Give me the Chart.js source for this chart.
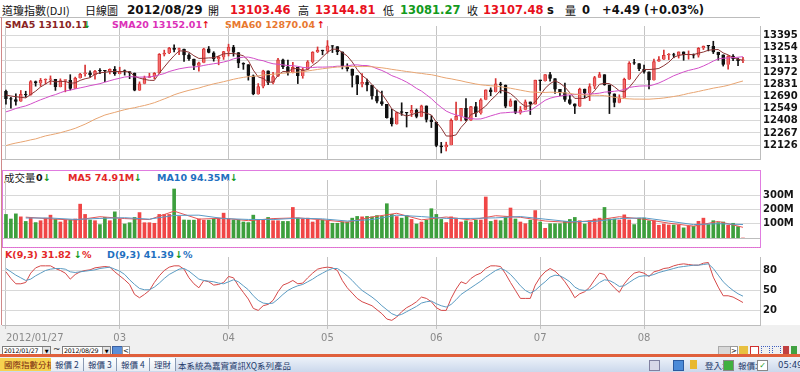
<!DOCTYPE html>
<html lang="zh-Hant">
<head>
<meta charset="UTF-8">
<title>道瓊指數(DJI) 日線圖</title>
<script src="https://cdn.jsdelivr.net/npm/chart.js"></script>
<style>
    body { margin: 0; width: 800px; height: 372px; overflow: hidden; background: #fff; position: relative; font-family: 'DejaVu Sans', sans-serif; }
    .abs { position: absolute; white-space: nowrap; }
    canvas { position: absolute; left: 0; z-index: 1; }
    .cjk { font-family: 'Noto Sans CJK TC', sans-serif; }
    .hd { top: 2px; font-size: 11px; line-height: 16px; color: #111; }
    .num { font-weight: bold; font-size: 11.5px; }
    .leg { font-weight: bold; font-size: 9.5px; line-height: 12px; z-index: 0; }
    .red { color: #e8101c; }
    .grn { color: #129a1c; }
    .over { z-index: 2; }
    .box { position: absolute; top: 346px; height: 8px; background: #fff; border: 1px solid #7c7c7c; font-size: 6.3px; line-height: 8px; padding-left: 1px; letter-spacing: -0.2px; overflow: hidden; }
    .dd { position: absolute; right: 0; top: 0; width: 7px; height: 8px; background: #e4e4e4; border-left: 1px solid #999; font-size: 5px; text-align: center; }
    .tab { position: absolute; top: 358px; height: 13px; font-size: 8.5px; line-height: 13px; padding: 0 4px; border-right: 1px solid #8a9ab4; background: linear-gradient(#ffffff, #e6ecf4); color: #243a6a; }
    .st { position: absolute; top: 359px; font-size: 8.5px; line-height: 12px; color: #243a6a; }
    .ic { position: absolute; width: 9px; height: 9px; }
</style>
</head>
<body>

<!-- header -->
<div class="abs hd cjk" style="left:2px">道瓊指數(DJI)</div>
<div class="abs hd cjk" style="left:85px">日線圖</div>
<div class="abs hd num" style="left:127px;font-size:12px">2012/08/29</div>
<div class="abs hd cjk" style="left:208px">開</div>
<div class="abs hd num red" style="left:230px">13103.46</div>
<div class="abs hd cjk" style="left:298px">高</div>
<div class="abs hd num red" style="left:315px">13144.81</div>
<div class="abs hd cjk" style="left:383px">低</div>
<div class="abs hd num grn" style="left:400px">13081.27</div>
<div class="abs hd cjk" style="left:467px">收</div>
<div class="abs hd num red" style="left:483px">13107.48</div>
<div class="abs hd num" style="left:547px">s</div>
<div class="abs hd cjk" style="left:565px">量</div>
<div class="abs hd num" style="left:582px">0</div>
<div class="abs hd num" style="left:602px">+4.49 (+0.03%)</div>

<!-- legends -->
<div class="abs leg" style="left:5px;top:19px;color:#8a2424">SMA5 13110.11</div>
<div class="abs leg grn" style="left:83px;top:19px">↓</div>
<div class="abs leg" style="left:112px;top:19px;color:#dc30b8">SMA20 13152.01</div>
<div class="abs leg red" style="left:202px;top:19px">↑</div>
<div class="abs leg" style="left:225px;top:19px;color:#e87830">SMA60 12870.04</div>
<div class="abs leg red" style="left:317px;top:19px">↑</div>

<div class="abs leg cjk" style="left:4px;top:171px;font-weight:normal;font-size:10.5px;line-height:14px;color:#222">成交量</div>
<div class="abs leg" style="left:36px;top:172px;color:#111">0</div>
<div class="abs leg grn" style="left:43px;top:172px">↓</div>
<div class="abs leg" style="left:68px;top:172px;color:#e42828">MA5 74.91M</div>
<div class="abs leg grn" style="left:134px;top:172px">↓</div>
<div class="abs leg" style="left:157px;top:172px;color:#1f70c0">MA10 94.35M</div>
<div class="abs leg grn" style="left:230px;top:172px">↓</div>

<div class="abs leg" style="left:5px;top:249px;color:#e42828">K(9,3) 31.82</div>
<div class="abs leg grn" style="left:74px;top:249px">↓</div>
<div class="abs leg" style="left:82px;top:249px;color:#e42828">%</div>
<div class="abs leg" style="left:107px;top:249px;color:#1f70c0">D(9,3) 41.39</div>
<div class="abs leg grn" style="left:175px;top:249px">↓</div>
<div class="abs leg" style="left:183px;top:249px;color:#1f70c0">%</div>

<!-- backgrounds of the date / picker rows -->
<div class="abs" style="left:0;top:325px;width:800px;height:30px;background:#f0f0f0;z-index:0"></div>

<canvas id="priceChart" width="800" height="151" style="top:17px"></canvas>
<canvas id="volChart" width="800" height="76" style="top:171px"></canvas>
<canvas id="kdChart" width="800" height="97" style="top:248px"></canvas>

<!-- panel frames -->
<div class="abs over" style="left:0;top:17px;width:760px;height:0;border-top:1px solid #bcbcbc"></div>
<div class="abs over" style="left:1px;top:17px;width:0;height:308px;border-left:1px solid #d08a8a"></div>
<div class="abs over" style="left:2px;top:170px;width:757px;height:76px;border:1px solid #e07ce0"></div>
<div class="abs over" style="left:2px;top:247px;width:758px;height:0;border-top:1px dotted #e070c8"></div>

<!-- date pickers row -->
<div class="box" style="left:2px;width:46px">2012/01/27<div class="dd">▼</div></div>
<div class="abs" style="left:53px;top:344px;font-size:9px;color:#222">~</div>
<div class="box" style="left:62px;width:46px">2012/08/29<div class="dd">▼</div></div>
<div class="ic" style="left:112px;top:346px;background:#5b8fd8;border:1px solid #3a5fa0"></div>
<div class="abs" style="left:122px;top:346px;width:6px;height:8px;background:#fff;border:1px solid #999;font-size:7px;line-height:8px;text-align:center">&lt;</div>
<div class="abs" style="left:718px;top:346px;width:11px;height:8px;background:#d8d8d8;border:1px solid #aaa"></div>
<div class="abs" style="left:730px;top:346px;width:6px;height:8px;background:#fff;border:1px solid #999;font-size:7px;line-height:8px;text-align:center">&gt;</div>
<div class="ic" style="left:739px;top:346px;background:#e8c040"></div>
<div class="ic" style="left:750px;top:346px;background:#fff;border:1px solid #d03030;width:7px;height:7px"></div>
<div class="ic" style="left:761px;top:346px;border:1px dotted #4060c0;width:7px;height:7px"></div>
<div class="ic" style="left:772px;top:346px;border:1px dotted #4060c0;width:7px;height:7px"></div>
<div class="ic" style="left:783px;top:346px;background:#c04040;width:6px"></div>
<div class="ic" style="left:791px;top:346px;background:#40a040;width:6px"></div>

<!-- status bar -->
<div class="abs" style="left:0;top:354px;width:800px;height:3px;background:#e0603c"></div>
<div class="abs" style="left:0;top:357px;width:800px;height:15px;background:linear-gradient(#edf2f9,#cbd8ec)"></div>
<div class="tab cjk" style="left:0;background:#f6d250;color:#7a2a10">國際指數分析</div>
<div class="tab cjk" style="left:51px">報價 2</div>
<div class="tab cjk" style="left:84px">報價 3</div>
<div class="tab cjk" style="left:117px">報價 4</div>
<div class="tab cjk" style="left:150px">理財</div>
<div class="st cjk" style="left:178px">本系統為嘉實資訊XQ系列產品</div>
<div class="ic" style="left:649px;top:360px;background:#d8d8e8;border:1px solid #8080a0"></div>
<div class="ic" style="left:673px;top:360px;background:#4a8ad8;border:1px solid #2a5aa0"></div>
<div class="ic" style="left:690px;top:360px;background:#e8b830;width:7px"></div>
<div class="st cjk" style="left:705px">登入:</div>
<div class="ic" style="left:723px;top:360px;background:#40b040;border:1px solid #888"></div>
<div class="st cjk" style="left:738px">報價:</div>
<div class="ic" style="left:757px;top:360px;background:#fff;border:1px solid #888;font-size:8px;line-height:9px;color:#1a9a1a;text-align:center">✓</div>
<div class="st" style="left:778px">05:49:</div>

<script>
// Dow Jones daily, 2012/01/27 - 2012/08/29 (one entry per trading day)
const opens = [
    12750, 12660, 12654, 12633, 12716, 12705, 12862, 12845, 12878, 12884,
    12890, 12801, 12874, 12878, 12781, 12904, 12950, 12966, 12939, 12985,
    12983, 12982, 13005, 12952, 12980, 12978, 12963, 12759, 12837, 12908,
    12922, 12960, 13178, 13194, 13253, 13233, 13239, 13170, 13125, 13046,
    13081, 13242, 13198, 13126, 13146, 13212, 13264, 13200, 13075, 13060,
    12930, 12716, 12805, 12987, 12850, 12921, 13116, 13033, 12964, 13029,
    12927, 13002, 13091, 13205, 13228, 13214, 13279, 13269, 13207, 13038,
    13009, 12932, 12835, 12855, 12821, 12695, 12632, 12599, 12442, 12369,
    12504, 12503, 12496, 12530, 12455, 12581, 12420, 12393, 12119, 12101,
    12128, 12415, 12461, 12554, 12411, 12574, 12496, 12652, 12767, 12742,
    12837, 12824, 12574, 12641, 12503, 12535, 12627, 12602, 12880, 12871,
    12944, 12897, 12772, 12736, 12653, 12605, 12573, 12777, 12727, 12806,
    12909, 12943, 12823, 12721, 12617, 12676, 12888, 13076, 13073, 13009,
    12976, 12879, 13096, 13118, 13169, 13176, 13165, 13208, 13169, 13172,
    13165, 13250, 13275, 13272, 13204, 13173, 13057, 13158, 13125, 13103.46
];
const highs = [
    12765, 12680, 12720, 12760, 12751, 12875, 12870, 12900, 12895, 12929,
    12890, 12895, 12880, 12943, 12915, 12960, 13056, 12987, 12993, 13013,
    12993, 13012, 13038, 13030, 12999, 12978, 12963, 12860, 12927, 12960,
    12968, 13188, 13228, 13260, 13289, 13253, 13239, 13187, 13125, 13090,
    13250, 13270, 13210, 13160, 13214, 13297, 13284, 13200, 13082, 13060,
    12940, 12840, 12995, 12987, 12970, 13133, 13123, 13112, 13087, 13029,
    13024, 13107, 13210, 13265, 13228, 13339, 13280, 13269, 13207, 13070,
    13009, 12932, 12957, 12893, 12821, 12765, 12752, 12599, 12541, 12510,
    12617, 12503, 12588, 12545, 12590, 12581, 12468, 12393, 12158, 12160,
    12430, 12626, 12554, 12667, 12575, 12623, 12665, 12767, 12790, 12898,
    12855, 12824, 12662, 12641, 12574, 12650, 12627, 12880, 12880, 12944,
    12970, 12897, 12772, 12845, 12703, 12605, 12787, 12777, 12838, 12924,
    12971, 12943, 12823, 12721, 12710, 12903, 13094, 13120, 13073, 13054,
    12976, 13124, 13154, 13228, 13189, 13192, 13208, 13208, 13219, 13184,
    13258, 13276, 13276, 13331, 13204, 13173, 13166, 13176, 13135, 13144.81
];
const lows = [
    12600, 12555, 12590, 12633, 12681, 12705, 12810, 12808, 12835, 12830,
    12761, 12801, 12744, 12766, 12781, 12904, 12925, 12915, 12892, 12956,
    12861, 12953, 12935, 12952, 12938, 12897, 12756, 12759, 12837, 12908,
    12895, 12960, 13160, 13187, 13207, 13176, 13097, 13108, 13000, 12985,
    13081, 13196, 13100, 13058, 13120, 13160, 13158, 13024, 13005, 12880,
    12710, 12716, 12790, 12828, 12837, 12921, 13014, 12938, 12964, 12840,
    12902, 13002, 13077, 13200, 13174, 13192, 13200, 13175, 13010, 12985,
    12800, 12710, 12800, 12755, 12658, 12615, 12586, 12440, 12347, 12369,
    12471, 12336, 12457, 12442, 12455, 12394, 12330, 12107, 12035, 12058,
    12128, 12415, 12406, 12407, 12411, 12455, 12485, 12652, 12700, 12742,
    12730, 12560, 12574, 12490, 12486, 12535, 12481, 12602, 12760, 12867,
    12868, 12726, 12700, 12632, 12599, 12492, 12573, 12676, 12642, 12781,
    12909, 12820, 12492, 12570, 12616, 12676, 12888, 13061, 12990, 12962,
    12778, 12879, 13096, 13118, 13118, 13139, 13136, 13110, 13123, 13136,
    13147, 13235, 13219, 13188, 13112, 13043, 13007, 13105, 13049, 13081.27
];
const closes = [
    12660, 12654, 12633, 12716, 12705, 12862, 12845, 12878, 12884, 12890,
    12801, 12874, 12878, 12781, 12904, 12950, 12966, 12939, 12985, 12983,
    12982, 13005, 12952, 12980, 12978, 12963, 12759, 12837, 12908, 12922,
    12960, 13178, 13194, 13253, 13233, 13239, 13170, 13125, 13046, 13081,
    13242, 13198, 13126, 13146, 13212, 13264, 13200, 13075, 13060, 12930,
    12716, 12805, 12987, 12850, 12921, 13116, 13033, 12964, 13029, 12927,
    13002, 13091, 13205, 13228, 13214, 13279, 13269, 13207, 13038, 13009,
    12932, 12835, 12855, 12821, 12695, 12632, 12599, 12442, 12369, 12504,
    12503, 12496, 12530, 12455, 12581, 12420, 12393, 12119, 12101, 12128,
    12415, 12461, 12554, 12411, 12574, 12496, 12652, 12767, 12742, 12837,
    12824, 12574, 12641, 12503, 12535, 12627, 12602, 12880, 12871, 12944,
    12897, 12772, 12736, 12653, 12605, 12573, 12777, 12727, 12806, 12909,
    12943, 12823, 12721, 12617, 12676, 12888, 13076, 13073, 13009, 12976,
    12879, 13096, 13118, 13169, 13176, 13165, 13208, 13169, 13172, 13165,
    13250, 13275, 13272, 13204, 13173, 13057, 13158, 13125, 13103, 13107.48
];
const sma5 = [
    12707, 12696, 12688, 12680, 12674, 12714, 12752, 12801, 12835, 12872,
    12860, 12865, 12865, 12845, 12848, 12877, 12896, 12908, 12949, 12965,
    12971, 12979, 12981, 12980, 12979, 12976, 12926, 12903, 12889, 12878,
    12877, 12961, 13032, 13101, 13164, 13219, 13218, 13204, 13163, 13132,
    13133, 13138, 13139, 13159, 13185, 13189, 13190, 13179, 13162, 13106,
    12996, 12917, 12900, 12858, 12856, 12936, 12981, 12977, 13013, 13014,
    12991, 13003, 13051, 13091, 13148, 13203, 13239, 13239, 13201, 13160,
    13091, 13004, 12934, 12890, 12828, 12768, 12720, 12638, 12547, 12509,
    12483, 12463, 12480, 12498, 12513, 12496, 12476, 12394, 12323, 12232,
    12231, 12245, 12332, 12394, 12483, 12499, 12537, 12580, 12646, 12699,
    12764, 12749, 12724, 12676, 12615, 12576, 12582, 12629, 12703, 12785,
    12839, 12873, 12844, 12800, 12733, 12668, 12669, 12667, 12698, 12758,
    12832, 12842, 12840, 12803, 12756, 12745, 12796, 12866, 12944, 13004,
    13003, 13007, 13016, 13048, 13088, 13145, 13167, 13177, 13178, 13176,
    13193, 13206, 13227, 13233, 13235, 13196, 13173, 13143, 13123, 13110.11
];
const sma20 = [
    12512, 12530, 12551, 12567, 12581, 12603, 12628, 12652, 12673, 12695,
    12712, 12734, 12754, 12764, 12778, 12790, 12802, 12816, 12827, 12839,
    12856, 12873, 12889, 12902, 12916, 12921, 12917, 12915, 12916, 12917,
    12925, 12941, 12956, 12980, 12996, 13011, 13021, 13030, 13033, 13038,
    13051, 13061, 13070, 13078, 13090, 13105, 13127, 13139, 13146, 13147,
    13134, 13116, 13105, 13085, 13070, 13064, 13057, 13049, 13048, 13040,
    13028, 13023, 13027, 13031, 13031, 13032, 13035, 13042, 13041, 13045,
    13055, 13057, 13050, 13049, 13037, 13013, 12992, 12965, 12932, 12911,
    12886, 12857, 12823, 12784, 12753, 12710, 12666, 12611, 12565, 12521,
    12495, 12476, 12461, 12440, 12434, 12428, 12430, 12446, 12465, 12482,
    12498, 12502, 12507, 12510, 12507, 12518, 12528, 12566, 12605, 12646,
    12670, 12685, 12694, 12706, 12708, 12712, 12718, 12716, 12719, 12723,
    12729, 12741, 12745, 12751, 12758, 12771, 12795, 12804, 12811, 12813,
    12812, 12828, 12847, 12873, 12902, 12931, 12953, 12975, 12993, 13006,
    13021, 13044, 13071, 13101, 13126, 13134, 13138, 13141, 13146, 13152.01
];
const sma60 = [
    12120, 12137, 12150, 12161, 12173, 12187, 12198, 12216, 12233, 12245,
    12257, 12270, 12286, 12303, 12321, 12345, 12369, 12397, 12427, 12451,
    12475, 12491, 12506, 12522, 12537, 12550, 12560, 12574, 12586, 12601,
    12618, 12640, 12662, 12685, 12710, 12729, 12746, 12762, 12775, 12788,
    12806, 12821, 12837, 12849, 12862, 12876, 12890, 12902, 12912, 12920,
    12924, 12930, 12939, 12943, 12948, 12955, 12960, 12965, 12969, 12973,
    12978, 12986, 12995, 13004, 13012, 13019, 13026, 13032, 13034, 13036,
    13039, 13038, 13037, 13038, 13035, 13029, 13023, 13015, 13005, 12997,
    12989, 12980, 12973, 12964, 12958, 12949, 12943, 12931, 12917, 12904,
    12895, 12883, 12872, 12858, 12847, 12835, 12826, 12820, 12815, 12811,
    12804, 12794, 12786, 12775, 12764, 12753, 12743, 12740, 12737, 12737,
    12740, 12739, 12735, 12732, 12726, 12717, 12713, 12709, 12705, 12705,
    12704, 12700, 12692, 12681, 12672, 12666, 12663, 12660, 12660, 12659,
    12659, 12663, 12667, 12673, 12681, 12690, 12700, 12712, 12726, 12737,
    12749, 12762, 12774, 12787, 12797, 12807, 12820, 12837, 12854, 12870.04
];

// volume in millions of shares
const volumes = [
    165, 133, 169, 148, 116, 142, 108, 121, 139, 160,
    130, 112, 125, 126, 133, 237, 165, 126, 121, 94,
    144, 121, 183, 133, 98, 107, 144, 178, 107, 107,
    103, 165, 165, 165, 343, 151, 126, 125, 125, 133,
    125, 125, 133, 139, 174, 133, 126, 126, 112, 108,
    160, 130, 125, 144, 121, 121, 116, 116, 214, 139,
    133, 139, 112, 126, 126, 121, 103, 103, 112, 112,
    139, 151, 148, 151, 148, 157, 151, 240, 165, 150,
    139, 157, 130, 98, 112, 125, 205, 165, 130, 108,
    148, 139, 112, 121, 112, 125, 126, 287, 116, 126,
    121, 148, 210, 133, 112, 100, 125, 192, 112, 68,
    100, 100, 100, 116, 130, 144, 121, 98, 121, 133,
    139, 214, 133, 133, 126, 162, 126, 94, 139, 139,
    121, 121, 89, 98, 91, 91, 91, 71, 82, 82,
    117, 139, 94, 121, 108, 112, 89, 103, 80, 0
];
const volMaDays = [4, 9, 14, 19, 24, 29, 34, 39, 44, 49, 54, 59, 64, 69, 74, 79, 84, 89, 94, 99, 104, 109, 114, 119, 124, 129, 134, 139, 144, 149];
const volMa5 = [146, 134, 125, 149, 136, 129, 188, 132, 139, 121, 136, 141, 127, 110, 147, 173, 127, 147, 126, 156, 145, 119, 109, 123, 149, 132, 104, 83, 116, 74.91];
const volMa10 = [140, 140, 130, 137, 142, 132, 158, 160, 136, 130, 129, 139, 134, 119, 129, 160, 150, 137, 137, 141, 150, 132, 114, 116, 136, 141, 118, 94, 100, 94.35];

// KD(9,3)
const kLine = [
    78, 68, 60, 60, 62, 76, 84, 87, 87, 87,
    83, 80, 76, 67, 74, 78, 80, 81, 84, 85,
    86, 85, 78, 72, 66, 59, 44, 39, 44, 50,
    62, 72, 80, 85, 87, 87, 82, 69, 60, 54,
    65, 63, 58, 59, 62, 71, 69, 57, 47, 37,
    23, 20, 27, 29, 35, 48, 58, 61, 65, 60,
    61, 69, 76, 82, 84, 85, 84, 80, 65, 54,
    46, 38, 33, 30, 27, 21, 15, 7, 5, 10,
    18, 24, 28, 33, 40, 38, 33, 24, 20, 20,
    38, 52, 63, 60, 68, 73, 76, 83, 87, 87,
    86, 75, 62, 50, 38, 38, 38, 58, 70, 78,
    83, 79, 72, 63, 52, 39, 45, 48, 55, 66,
    76, 74, 62, 54, 47, 60, 69, 76, 78, 76,
    71, 78, 80, 83, 84, 87, 89, 90, 89, 88,
    88, 91, 92, 70, 55, 42, 42, 40, 36, 31.82
];
const dLine = [
    83, 78, 73, 69, 65, 67, 72, 76, 80, 82,
    83, 83, 82, 78, 77, 78, 79, 80, 81, 83,
    84, 85, 82, 79, 74, 66, 59, 53, 51, 51,
    55, 61, 68, 74, 78, 82, 83, 79, 73, 67,
    65, 64, 63, 61, 60, 63, 66, 63, 57, 51,
    42, 35, 31, 30, 31, 37, 44, 50, 54, 57,
    59, 63, 67, 72, 76, 80, 83, 83, 78, 72,
    65, 57, 50, 45, 40, 34, 27, 21, 15, 12,
    14, 18, 22, 26, 31, 33, 34, 30, 27, 25,
    29, 36, 44, 49, 54, 59, 64, 70, 75, 80,
    83, 80, 74, 66, 57, 50, 46, 50, 57, 63,
    70, 73, 72, 68, 63, 55, 51, 50, 51, 56,
    62, 66, 65, 61, 56, 57, 62, 67, 71, 72,
    72, 74, 77, 79, 81, 83, 85, 86, 87, 88,
    88, 89, 90, 83, 73, 63, 56, 50, 45, 41.39
];

// axis ticks (month starts; last entry is a blank spacer)
const tickDays = [0, 23, 45, 65, 87, 108, 129, 152];
const tickLabels = ['2012/01/27', '03', '04', '05', '06', '07', '08', ''];
const priceTicks = [12126, 12267, 12408, 12549, 12690, 12831, 12972, 13113, 13254, 13395];
const volumeTicks = [100, 200, 300];
const kdTicks = [20, 50, 80];

Chart.defaults.font.family = "'DejaVu Sans', sans-serif";
Chart.defaults.animation = false;
Chart.defaults.responsive = false;
Chart.defaults.devicePixelRatio = 1;
Chart.defaults.plugins.legend.display = false;
Chart.defaults.plugins.tooltip.enabled = false;

const days = closes.map((c, i) => i);
const isUp = i => closes[i] >= opens[i];

function xAxis(showDates) {
    return {
        type: 'linear', min: -0.8, max: 152.44, offset: false,
        afterBuildTicks: s => { s.ticks = tickDays.map(v => ({ value: v })); },
        grid: {
            offset: false, drawTicks: showDates, tickLength: 4,
            color: ctx => (ctx.tick && ctx.tick.value > 150) ? 'rgba(0,0,0,0)' : '#c4c4c4'
        },
        border: { display: true, color: '#bdbdbd' },
        ticks: {
            display: showDates, autoSkip: false, maxRotation: 0, align: 'inner', padding: 3,
            color: '#8a8a8a', font: { size: 10 },
            callback: (v, i) => tickLabels[i]
        },
        afterFit: s => { s.height = showDates ? 20 : 0; }
    };
}

function yAxis(min, max, ticks, fmt, borderColor) {
    return {
        position: 'right', min: min, max: max,
        afterBuildTicks: s => { s.ticks = ticks.map(v => ({ value: v })); },
        afterFit: s => { s.width = 40; },
        grid: { color: '#d8d8d8', drawTicks: false },
        border: { display: true, color: borderColor },
        ticks: { autoSkip: false, padding: 3, color: '#151515', font: { size: 10, weight: 'bold' }, callback: fmt }
    };
}

function lineSet(xs, ys, color) {
    return {
        type: 'line', data: xs.map((x, i) => ({ x: x, y: ys[i] })),
        borderColor: color, borderWidth: 1, pointRadius: 0, tension: 0, order: 0
    };
}

const padding = { left: 2, right: 0, top: 0, bottom: 0 };

new Chart(document.getElementById('priceChart'), {
    type: 'bar',
    data: {
        datasets: [
            lineSet(days, sma60, '#e8a572'),
            lineSet(days, sma20, '#d24ec8'),
            lineSet(days, sma5, '#8c3434'),
            {
                data: days.map(i => ({ x: i, y: [lows[i], highs[i]] })),
                barThickness: 1, grouped: false, order: 2,
                backgroundColor: ctx => isUp(ctx.dataIndex) ? '#d83434' : '#111111'
            },
            {
                data: days.map(i => ({ x: i, y: [opens[i], closes[i]] })),
                barThickness: 3, minBarLength: 1, grouped: false, order: 1,
                backgroundColor: ctx => isUp(ctx.dataIndex) ? '#f26e6e' : '#111111',
                borderColor: ctx => isUp(ctx.dataIndex) ? '#d83434' : '#111111',
                borderWidth: 1
            }
        ]
    },
    options: {
        events: [],
        layout: { padding: padding },
        scales: { x: xAxis(false), y: yAxis(11965, 13508, priceTicks, v => String(v), '#bdbdbd') }
    }
});

new Chart(document.getElementById('volChart'), {
    type: 'bar',
    data: {
        datasets: [
            lineSet(volMaDays, volMa10, '#5b9ac6'),
            lineSet(volMaDays, volMa5, '#e65454'),
            {
                data: days.map(i => ({ x: i, y: volumes[i] })),
                barThickness: 3, grouped: false, order: 1,
                backgroundColor: ctx => isUp(ctx.dataIndex) ? '#f04646' : '#3d9f3d'
            }
        ]
    },
    options: {
        events: [],
        layout: { padding: padding },
        scales: { x: xAxis(false), y: yAxis(0, 406, volumeTicks, v => v + 'M', '#e07ce0') }
    }
});

new Chart(document.getElementById('kdChart'), {
    type: 'line',
    data: {
        datasets: [
            lineSet(days, dLine, '#5b9bc2'),
            lineSet(days, kLine, '#d54848')
        ]
    },
    options: {
        events: [],
        layout: { padding: padding },
        scales: { x: xAxis(true), y: yAxis(-2, 100.3, kdTicks, v => String(v), '#bdbdbd') }
    }
});
</script>
</body>
</html>
